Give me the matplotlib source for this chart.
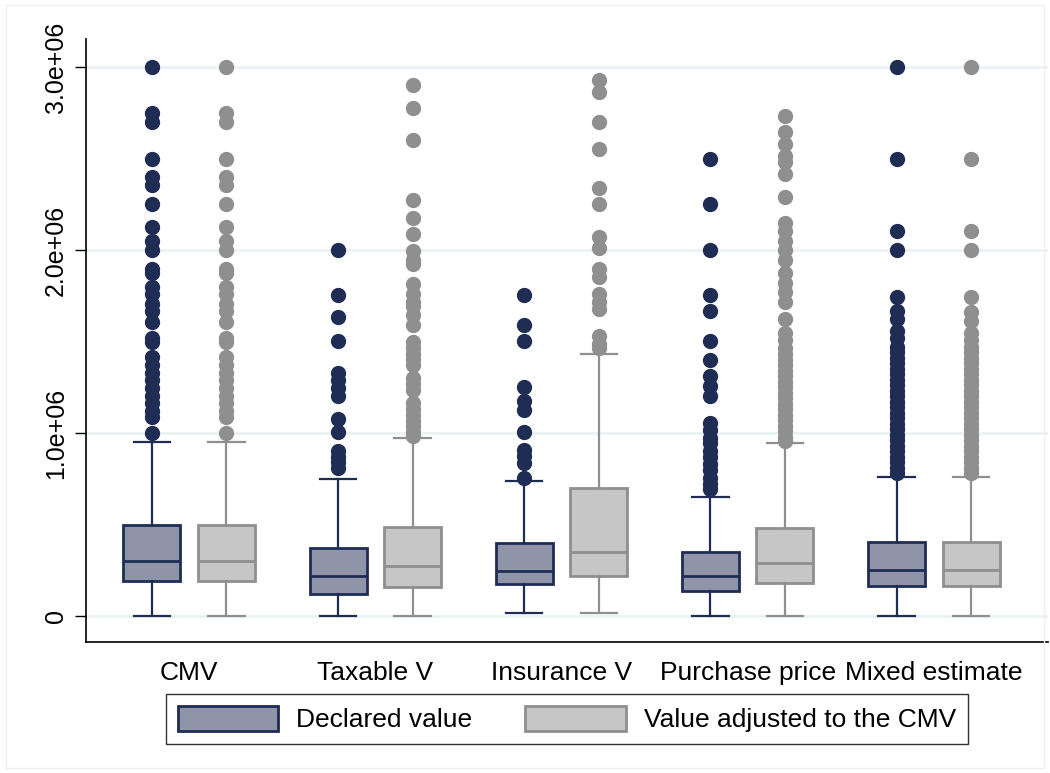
import numpy as np
import matplotlib.pyplot as plt
from matplotlib.patches import Patch, Rectangle

plt.rcParams['font.family'] = ['Liberation Sans', 'DejaVu Sans']

categories = ['CMV', 'Taxable V', 'Insurance V', 'Purchase price', 'Mixed estimate']
series = ['Declared value', 'Value adjusted to the CMV']

# box statistics, in millions
decl_lo = [0.0, 0.0, 0.015, 0.0, 0.0]
decl_q1 = [0.19, 0.119, 0.174, 0.136, 0.165]
decl_med = [0.30, 0.217, 0.247, 0.217, 0.249]
decl_q3 = [0.50, 0.374, 0.399, 0.351, 0.404]
decl_hi = [0.95, 0.748, 0.738, 0.650, 0.759]

adj_lo = [0.0, 0.0, 0.019, 0.0, 0.0]
adj_q1 = [0.19, 0.159, 0.217, 0.180, 0.165]
adj_med = [0.30, 0.274, 0.351, 0.289, 0.249]
adj_q3 = [0.50, 0.485, 0.702, 0.483, 0.404]
adj_hi = [0.95, 0.974, 1.434, 0.943, 0.759]

# outliers, in millions
decl_out = [
    [3.0, 2.75, 2.70, 2.50, 2.40, 2.355, 2.25, 2.125, 2.05, 2.0, 1.895, 1.873,
     1.80, 1.758, 1.706, 1.664, 1.608, 1.518, 1.497, 1.413, 1.372, 1.33, 1.288,
     1.246, 1.204, 1.162, 1.12, 1.089, 1.0],
    [2.0, 1.754, 1.633, 1.503, 1.33, 1.288, 1.246, 1.204, 1.075, 1.006, 0.90,
     0.87, 0.84, 0.807],
    [1.754, 1.591, 1.503, 1.25, 1.173, 1.127, 1.006, 0.905, 0.876, 0.838, 0.755],
    [2.50, 2.25, 2.0, 1.754, 1.668, 1.503, 1.399, 1.309, 1.257, 1.204, 1.052,
     1.016, 0.974, 0.943, 0.90, 0.87, 0.828, 0.797, 0.755, 0.723, 0.696],
    [3.0, 2.5, 2.103, 2.0, 1.744, 1.664, 1.622, 1.56, 1.518, 1.47, 1.44, 1.41,
     1.38, 1.35, 1.32, 1.29, 1.26, 1.23, 1.2, 1.17, 1.14, 1.11, 1.08, 1.05,
     1.02, 0.99, 0.96, 0.93, 0.9, 0.87, 0.84, 0.81, 0.78],
]
adj_out = [
    [3.0, 2.75, 2.70, 2.50, 2.40, 2.355, 2.25, 2.125, 2.05, 2.0, 1.895, 1.873,
     1.80, 1.758, 1.706, 1.664, 1.608, 1.518, 1.497, 1.413, 1.372, 1.33, 1.288,
     1.246, 1.204, 1.162, 1.12, 1.089, 1.0],
    [2.902, 2.777, 2.599, 2.275, 2.176, 2.087, 1.995, 1.946, 1.921, 1.815,
     1.758, 1.716, 1.696, 1.643, 1.591, 1.497, 1.466, 1.434, 1.403, 1.372,
     1.298, 1.267, 1.236, 1.162, 1.131, 1.1, 1.068, 1.037, 1.006, 0.985],
    [2.929, 2.862, 2.699, 2.553, 2.34, 2.25, 2.072, 2.009, 1.894, 1.852,
     1.758, 1.716, 1.675, 1.528, 1.486, 1.466],
    [2.731, 2.647, 2.578, 2.511, 2.48, 2.417, 2.287, 2.145, 2.103, 2.051, 2.0,
     1.946, 1.873, 1.82, 1.768, 1.716, 1.622, 1.549, 1.507, 1.466, 1.43, 1.4,
     1.37, 1.34, 1.31, 1.28, 1.25, 1.22, 1.19, 1.16, 1.13, 1.1, 1.07, 1.04,
     1.01, 0.98, 0.955],
    [3.0, 2.5, 2.103, 2.0, 1.744, 1.66, 1.612, 1.549, 1.507, 1.47, 1.44, 1.41,
     1.38, 1.35, 1.32, 1.29, 1.26, 1.23, 1.2, 1.17, 1.14, 1.11, 1.08, 1.05,
     1.02, 0.99, 0.96, 0.93, 0.9, 0.87, 0.84, 0.81, 0.78],
]

navy = '#1f2d54'
navy_fill = '#8f94a8'
grey = '#8f8f8f'
grey_fill = '#c6c6c6'


def make_stats(lo, q1, med, q3, hi, out):
    stats = []
    for i in range(len(lo)):
        stats.append(dict(whislo=lo[i] * 1e6, q1=q1[i] * 1e6, med=med[i] * 1e6,
                          q3=q3[i] * 1e6, whishi=hi[i] * 1e6,
                          fliers=np.array(out[i]) * 1e6))
    return stats


fig = plt.figure(figsize=(10.5, 7.73), dpi=100)
ax = fig.add_axes([86 / 1050, 1 - 642 / 773, 962 / 1050, 603 / 773])

fig.patches.append(Rectangle((0.006, 0.006), 0.988, 0.988, transform=fig.transFigure,
                             fill=False, edgecolor='#f0f0f0', linewidth=1))

x = np.arange(len(categories))
for stats, pos, ec, fc in [
        (make_stats(decl_lo, decl_q1, decl_med, decl_q3, decl_hi, decl_out), x - 0.2, navy, navy_fill),
        (make_stats(adj_lo, adj_q1, adj_med, adj_q3, adj_hi, adj_out), x + 0.2, grey, grey_fill)]:
    ax.bxp(stats, positions=pos, widths=0.306, patch_artist=True,
           capwidths=0.195, manage_ticks=False,
           boxprops=dict(facecolor=fc, edgecolor=ec, linewidth=2),
           medianprops=dict(color=ec, linewidth=2),
           whiskerprops=dict(color=ec, linewidth=1.6),
           capprops=dict(color=ec, linewidth=1.6),
           flierprops=dict(marker='o', markersize=10, markerfacecolor=ec,
                           markeredgecolor=ec),
           zorder=3)

ax.set_xlim(-0.554, 4.613)
ax.set_ylim(-0.142e6, 3.153e6)
ax.set_yticks([0, 1e6, 2e6, 3e6])
ax.set_yticklabels(['0', '1.0e+06', '2.0e+06', '3.0e+06'], rotation=90,
                   va='center', fontsize=18)
ax.set_xticks(x)
ax.set_xticklabels(categories, fontsize=19)
ax.tick_params(axis='x', length=0, pad=14)
ax.tick_params(axis='y', length=8, width=1, pad=5)
ax.grid(axis='y', color='#eaf2f3', linewidth=2)
ax.set_axisbelow(True)
for s in ['top', 'right']:
    ax.spines[s].set_visible(False)
for s in ['left', 'bottom']:
    ax.spines[s].set_linewidth(1.2)

handles = [Patch(facecolor=navy_fill, edgecolor=navy, linewidth=2),
           Patch(facecolor=grey_fill, edgecolor=grey, linewidth=2)]
leg = fig.legend(handles, series, loc='center', bbox_to_anchor=(567 / 1050, 1 - 719 / 773),
                 ncol=2, fontsize=19, frameon=True, fancybox=False,
                 handlelength=3.8, handleheight=1.1, columnspacing=2.0,
                 borderpad=0.45, handletextpad=0.7)
leg.get_frame().set_edgecolor('black')
leg.get_frame().set_linewidth(1)

plt.savefig('out.png')
